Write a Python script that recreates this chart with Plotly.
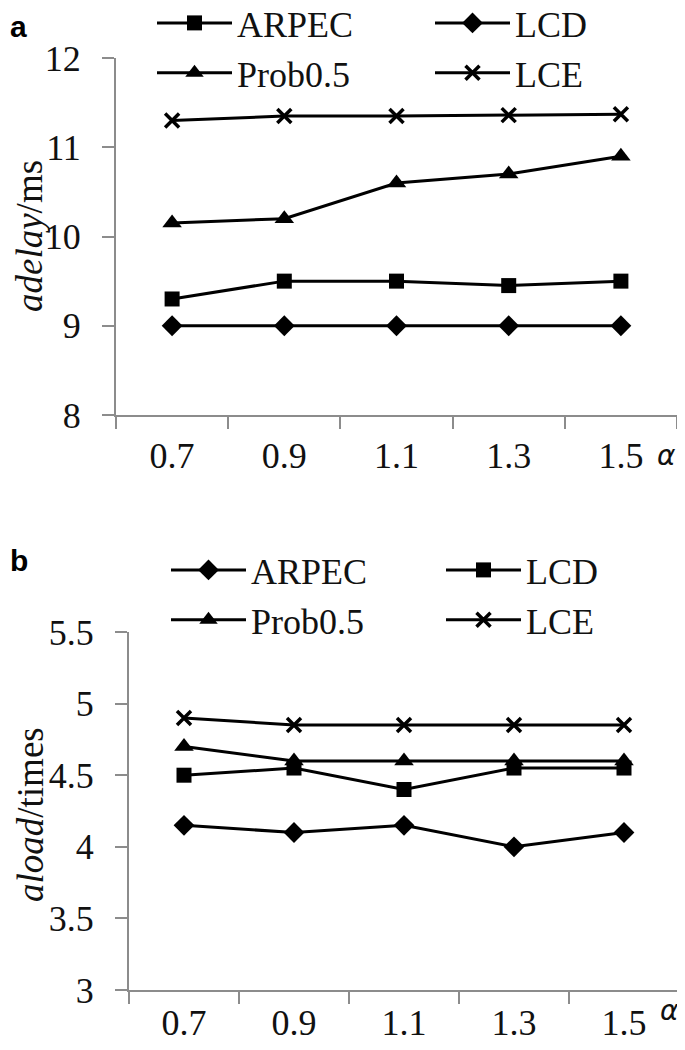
import plotly.graph_objects as go

alpha = ["0.7", "0.9", "1.1", "1.3", "1.5"]

# panel a: adelay (ms)
a_arpec = [9.3, 9.5, 9.5, 9.45, 9.5]
a_lcd = [9.0, 9.0, 9.0, 9.0, 9.0]
a_prob = [10.15, 10.2, 10.6, 10.7, 10.9]
a_lce = [11.3, 11.35, 11.35, 11.36, 11.37]

# panel b: aload (times)
b_arpec = [4.15, 4.1, 4.15, 4.0, 4.1]
b_lcd = [4.5, 4.55, 4.4, 4.55, 4.55]
b_prob = [4.7, 4.6, 4.6, 4.6, 4.6]
b_lce = [4.9, 4.85, 4.85, 4.85, 4.85]

# page has an 8px body margin: figure sized to fit the 685x1050 window
OFF = 8
W, H = 685 - OFF, 1050 - OFF
SERIF = "Liberation Serif, Times New Roman, serif"
AXC = "#8c8c8c"

def px(x):
    # x given in window pixels
    return (x - OFF) / W

def py(y):
    # y given in window pixels from top
    return 1 - (y - OFF) / H

fig = go.Figure()

def add(name, ys, symbol, size, xa, ya, leg):
    marker = dict(symbol=symbol, size=size, color="black")
    if symbol == "x-thin":
        marker["line"] = dict(width=3.5, color="black")
    else:
        marker["line"] = dict(width=0, color="black")
    fig.add_trace(go.Scatter(x=alpha, y=ys, name=name, mode="lines+markers",
                             line=dict(color="black", width=3), marker=marker,
                             xaxis=xa, yaxis=ya, legend=leg))

# panel a: column 1 = ARPEC, Prob0.5 ; column 2 = LCD, LCE
add("ARPEC", a_arpec, "square", 15, "x", "y", "legend")
add("Prob0.5", a_prob, "triangle-up", 17, "x", "y", "legend")
add("LCD", a_lcd, "diamond", 16, "x", "y", "legend2")
add("LCE", a_lce, "x-thin", 14, "x", "y", "legend2")

add("ARPEC", b_arpec, "diamond", 16, "x2", "y2", "legend3")
add("Prob0.5", b_prob, "triangle-up", 17, "x2", "y2", "legend3")
add("LCD", b_lcd, "square", 15, "x2", "y2", "legend4")
add("LCE", b_lce, "x-thin", 14, "x2", "y2", "legend4")

tickfont = dict(family=SERIF, size=36, color="#111")

xcommon = dict(type="category", range=[-0.5, 4.5], showline=True, linecolor=AXC,
               linewidth=2, ticks="outside", tickson="boundaries", ticklen=12,
               tickcolor=AXC, tickwidth=2, showgrid=False, zeroline=False,
               tickfont=tickfont, fixedrange=True, automargin=False)
ycommon = dict(showline=True, linecolor=AXC, linewidth=2, ticks="outside",
               ticklen=12, tickcolor=AXC, tickwidth=2, showgrid=False,
               zeroline=False, tickfont=tickfont, fixedrange=True, automargin=False,
               ticklabelstandoff=14)

def leg(x, y):
    return dict(orientation="v", xref="paper", yref="paper",
                x=px(x), y=py(y), xanchor="left", yanchor="top",
                font=dict(family=SERIF, size=36, color="#111"),
                bgcolor="rgba(0,0,0,0)", tracegroupgap=0, itemwidth=75,
                traceorder="normal")

fig.update_layout(
    width=W, height=H, margin=dict(l=0, r=0, t=0, b=0, autoexpand=False),
    paper_bgcolor="white", plot_bgcolor="white",
    xaxis=dict(domain=[px(116), px(677)], anchor="y", ticklabelstandoff=8, **xcommon),
    yaxis=dict(domain=[py(415), py(58)], anchor="x", range=[8, 12], dtick=1,
               **ycommon),
    xaxis2=dict(domain=[px(129), px(679)], anchor="y2", ticklabelstandoff=0, **xcommon),
    yaxis2=dict(domain=[py(990), py(632)], anchor="x2", range=[3, 5.5], dtick=0.5,
                **ycommon),
    legend=leg(152, -7),
    legend2=leg(430, -7),
    legend3=leg(166, 540),
    legend4=leg(441, 540),
    showlegend=True,
)

ann = [
    dict(text="<b>a</b>", x=px(8), y=py(26), xanchor="left", yanchor="middle",
         font=dict(family="Liberation Sans, Arial, sans-serif", size=30, color="black")),
    dict(text="<b>b</b>", x=px(8), y=py(560), xanchor="left", yanchor="middle",
         font=dict(family="Liberation Sans, Arial, sans-serif", size=30, color="black")),
    dict(text="<i>adelay</i>/ms", x=px(30), y=py(236), textangle=-90,
         xanchor="center", yanchor="middle",
         font=dict(family=SERIF, size=37, color="#111")),
    dict(text="<i>aload</i>/times", x=px(30), y=py(815), textangle=-90,
         xanchor="center", yanchor="middle",
         font=dict(family=SERIF, size=37, color="#111")),
    dict(text="<i>α</i>", x=px(666), y=py(456), xanchor="center", yanchor="middle",
         font=dict(family="DejaVu Sans, sans-serif", size=28, color="#111")),
    dict(text="<i>α</i>", x=px(669), y=py(1010), xanchor="center", yanchor="middle",
         font=dict(family="DejaVu Sans, sans-serif", size=28, color="#111")),
]
for a in ann:
    a.update(xref="paper", yref="paper", showarrow=False)
fig.update_layout(annotations=ann)

fig.write_html("out.html")
